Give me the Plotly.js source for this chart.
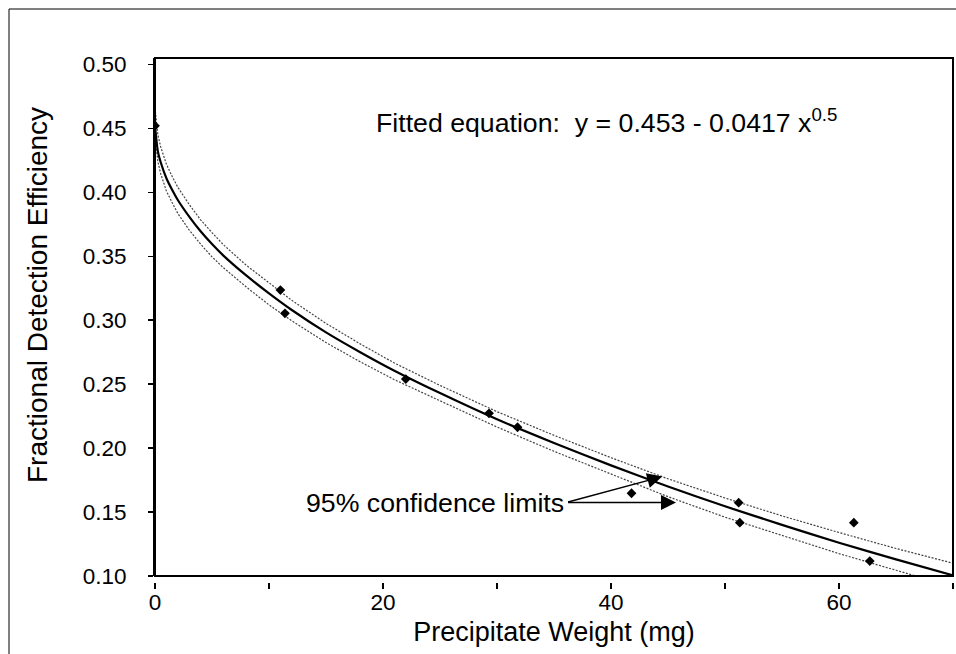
<!DOCTYPE html>
<html><head><meta charset="utf-8">
<script src="https://cdn.plot.ly/plotly-3.0.1.min.js"></script>
<style>html,body{margin:0;padding:0;background:#fff}#chart{width:956px;height:654px}</style>
</head><body><div id="chart"></div>
<script>
const obsWeight = [0, 11.0, 11.4, 22.0, 29.3, 31.8, 41.8, 51.2, 51.3, 61.3, 62.7];
const obsEfficiency = [0.452, 0.3236, 0.3054, 0.254, 0.2272, 0.2163, 0.1647, 0.1573, 0.1417, 0.1417, 0.1117];

// Fitted curve and 95% confidence limits
const curveWeight = [0, 0.25, 0.5, 1, 1.5, 2, 3, 4, 5, 6, 8, 10, 12, 15, 18, 21, 25, 30, 35, 40, 45, 50, 55, 60, 65, 70];
const fitted     = [0.452, 0.432, 0.4235, 0.411, 0.402, 0.394, 0.381, 0.3695, 0.3595, 0.3505, 0.335, 0.321, 0.308, 0.2905, 0.275, 0.2605, 0.243, 0.2225, 0.204, 0.1865, 0.170, 0.1545, 0.140, 0.126, 0.113, 0.1005];
const upperLimit = [0.466, 0.445, 0.4355, 0.422, 0.4125, 0.404, 0.3905, 0.3785, 0.3685, 0.359, 0.343, 0.329, 0.3155, 0.2975, 0.2815, 0.2665, 0.249, 0.2285, 0.210, 0.1925, 0.176, 0.161, 0.147, 0.134, 0.1215, 0.1100];
const lowerLimit = [0.445, 0.424, 0.4145, 0.401, 0.392, 0.3835, 0.3705, 0.3595, 0.3495, 0.341, 0.326, 0.312, 0.2995, 0.2825, 0.2675, 0.2535, 0.237, 0.2165, 0.1975, 0.1795, 0.162, 0.146, 0.1315, 0.1175, 0.1045, 0.0915];

const xTickVals = [0, 10, 20, 30, 40, 50, 60, 70];
const xTickText = ['0', '', '20', '', '40', '', '60', ''];
const yTickVals = [0.10, 0.15, 0.20, 0.25, 0.30, 0.35, 0.40, 0.45, 0.50];

const FONT = 'Liberation Sans, Arial, sans-serif';
const ciLine = {color: '#444', width: 1.2, dash: '2px,1.5px'};

const traces = [
  {x: curveWeight, y: upperLimit, mode: 'lines', line: ciLine, hoverinfo: 'skip', showlegend: false},
  {x: curveWeight, y: lowerLimit, mode: 'lines', line: ciLine, hoverinfo: 'skip', showlegend: false},
  {x: curveWeight, y: fitted, mode: 'lines', line: {color: '#000', width: 2.2, shape: 'spline', smoothing: 0.6}, showlegend: false},
  {x: obsWeight, y: obsEfficiency, mode: 'markers', marker: {symbol: 'diamond', size: 7.5, color: '#000'}, showlegend: false}
];

const yDomLow = 6 / 524;
const layout = {
  width: 956, height: 654,
  margin: {l: 155, r: 3, t: 58, b: 72},
  paper_bgcolor: '#fff', plot_bgcolor: '#fff',
  font: {family: FONT, color: '#000'},
  showlegend: false,
  xaxis: {
    range: [0, 70], anchor: 'free', position: 0,
    tickvals: xTickVals, ticktext: xTickText,
    ticks: 'outside', ticklen: 6, tickwidth: 1.5, tickcolor: '#000',
    ticklabelstandoff: -6,
    showline: false, showgrid: false, zeroline: false,
    tickfont: {family: FONT, size: 22.5, color: '#000'},
    title: {text: 'Precipitate Weight (mg)', font: {family: FONT, size: 27, color: '#000'}, standoff: 8}
  },
  yaxis: {
    range: [0.1, 0.505], domain: [yDomLow, 1],
    tickvals: yTickVals, tickformat: '.2f',
    ticks: 'outside', ticklen: 5, tickwidth: 1.5, tickcolor: '#000',
    ticklabelstandoff: 17,
    showline: true, linewidth: 2, linecolor: '#000',
    showgrid: false, zeroline: false,
    tickfont: {family: FONT, size: 22.5, color: '#000'}
  },
  shapes: [
    {type: 'rect', xref: 'paper', yref: 'paper', x0: 0, x1: 1, y0: yDomLow, y1: 1, line: {color: '#000', width: 2}},
    {type: 'rect', xref: 'paper', yref: 'paper', x0: (9 - 155) / 798, x1: 1.05, y0: -0.2, y1: (582 - 9) / 524, line: {color: '#000', width: 1}}
  ],
  annotations: [
    {xref: 'paper', yref: 'paper', x: (37 - 155) / 798, y: (582 - 295) / 524, xanchor: 'center', yanchor: 'middle',
     textangle: -90, showarrow: false,
     text: 'Fractional Detection Efficiency', font: {family: FONT, size: 28, color: '#000'}},
    {xref: 'x', yref: 'y', x: 19.2, y: 0.4555, xanchor: 'left', yanchor: 'middle', showarrow: false,
     text: 'Fitted equation:\u00a0 y = 0.453 - 0.0417 x<sup>0.5</sup>', font: {family: FONT, size: 26.7, color: '#000'}},
    {xref: 'x', yref: 'y', x: 36.05, y: 0.157, xanchor: 'right', yanchor: 'middle', showarrow: false,
     text: '95% confidence limits', font: {family: FONT, size: 26.7, color: '#000'}},
    {xref: 'x', yref: 'y', x: 44.5, y: 0.1777, axref: 'x', ayref: 'y', ax: 36.1, ay: 0.1575,
     text: '', showarrow: true, arrowhead: 2, arrowsize: 2, arrowwidth: 1.5, arrowcolor: '#000', standoff: 0},
    {xref: 'x', yref: 'y', x: 45.7, y: 0.1575, axref: 'x', ayref: 'y', ax: 36.1, ay: 0.1575,
     text: '', showarrow: true, arrowhead: 2, arrowsize: 2, arrowwidth: 1.5, arrowcolor: '#000', standoff: 0}
  ]
};

Plotly.newPlot('chart', traces, layout, {displayModeBar: false, staticPlot: true});
</script>
</body></html>
